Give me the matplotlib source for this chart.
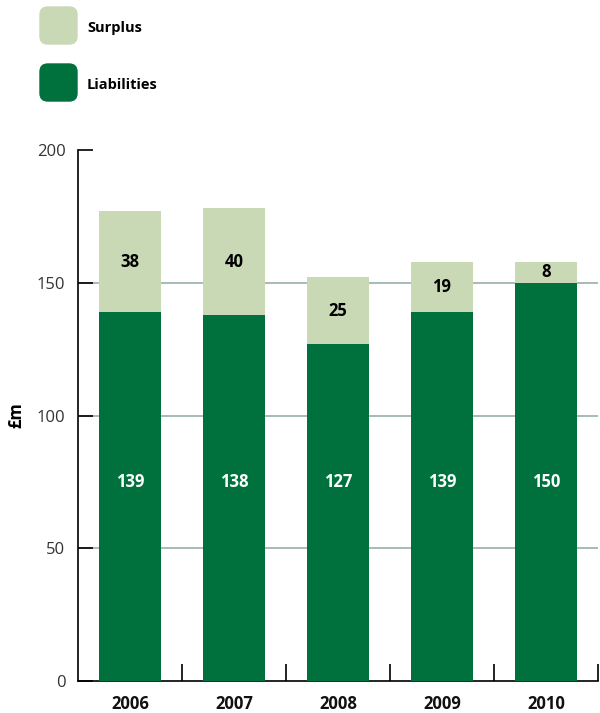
import numpy as np
import matplotlib.pyplot as plt
from matplotlib.patches import FancyBboxPatch

# datos
years = ["2006", "2007", "2008", "2009", "2010"]
liabilities = [139, 138, 127, 139, 150]
surplus = [38, 40, 25, 19, 8]

DARK = "#00703c"
LIGHT = "#c9d8b5"
GRID = "#9fb6ad"

plt.rcParams["font.family"] = ["Open Sans", "DejaVu Sans"]

fig = plt.figure(figsize=(6, 7.13), dpi=100)
ax = fig.add_axes([0.13, 0.0449, 0.8667, 0.7447])

x = np.arange(len(years))
ax.bar(x, liabilities, width=0.6, color=DARK, zorder=3)
ax.bar(x, surplus, width=0.6, bottom=liabilities, color=LIGHT, zorder=3)

for xi, l, s in zip(x, liabilities, surplus):
    ax.text(xi, 75, str(l), ha="center", va="center", color="white",
            fontsize=12, fontweight="bold", zorder=4)
    ax.text(xi, l + s / 2, str(s), ha="center", va="center", color="black",
            fontsize=12, fontweight="bold", zorder=4)

ax.set_xlim(-0.5, len(years) - 0.5)
ax.set_ylim(0, 200)

# gridlines
for yv in [50, 100, 150]:
    ax.axhline(yv, color=GRID, lw=1.3, zorder=1)

ax.set_yticks([0, 50, 100, 150, 200])
ax.tick_params(axis="y", direction="in", length=11, width=1.2, pad=9,
               labelsize=12, labelcolor="#333333")
ax.set_xticks(np.arange(len(years)) + 0.5)
ax.set_xticklabels([])
ax.tick_params(axis="x", direction="in", length=12, width=1.2)
for xi, yr in zip(x, years):
    ax.text(xi, -8.8, yr, ha="center", va="center", fontsize=12,
            fontweight="bold", color="#111111")

for sp in ["top", "right"]:
    ax.spines[sp].set_visible(False)
for sp in ["left", "bottom"]:
    ax.spines[sp].set_linewidth(1.2)

fig.text(0.027, 0.418, "£m", rotation=90, ha="center", va="center",
         fontsize=12, fontweight="bold")

# leyenda
for i, (lab, col) in enumerate([("Surplus", LIGHT), ("Liabilities", DARK)]):
    y0 = 713 - 44 - i * 57
    box = FancyBboxPatch((40 / 600, y0 / 713), 37 / 600, 37 / 713,
                         boxstyle="round,pad=0,rounding_size=0.013",
                         transform=fig.transFigure, color=col,
                         mutation_aspect=600 / 713)
    fig.patches.append(box)
    fig.text(87 / 600, (y0 + 16) / 713, lab, ha="left", va="center",
             fontsize=10.5, fontweight="bold")

fig.savefig("out.png", dpi=100)
